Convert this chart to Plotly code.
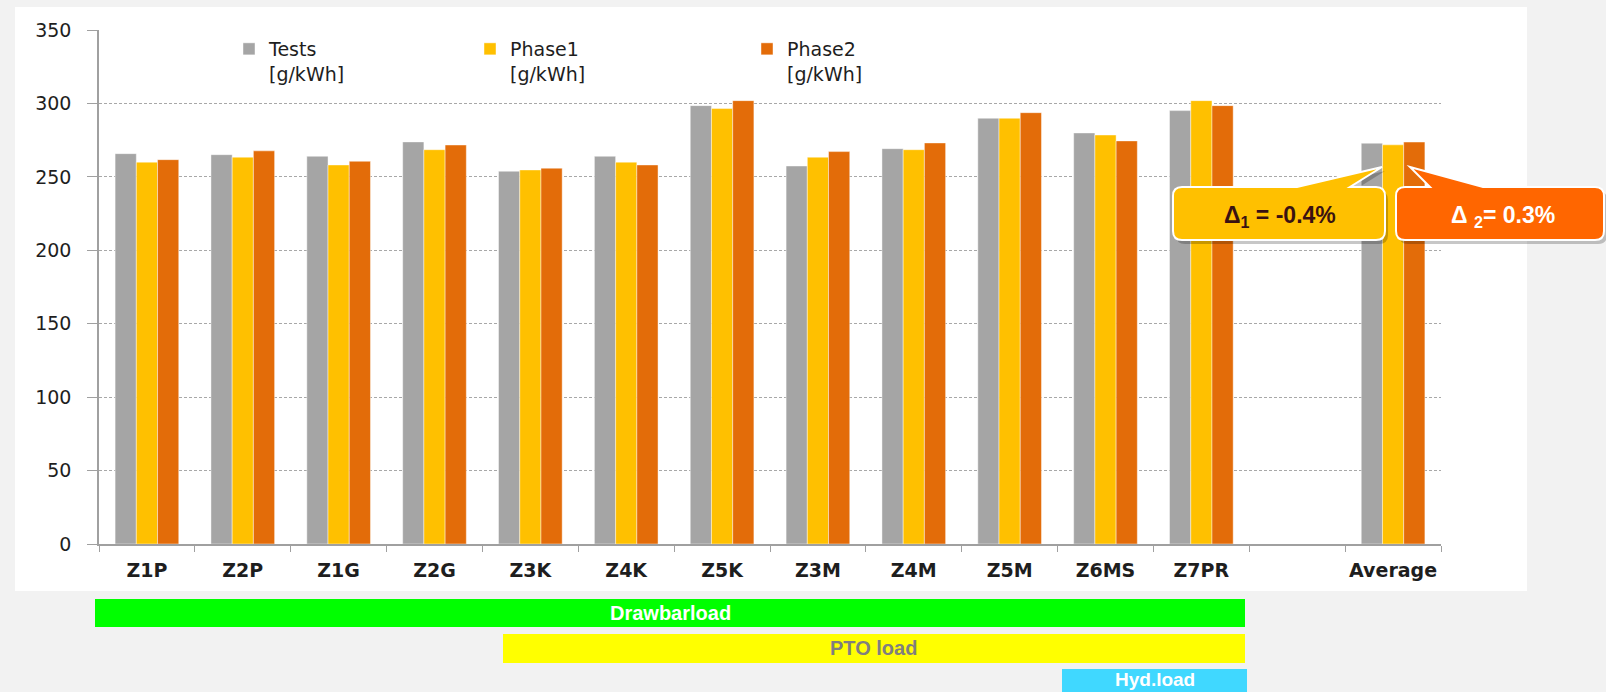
import plotly.graph_objects as go

# ---- data ---------------------------------------------------------------
categories = ["Z1P", "Z2P", "Z1G", "Z2G", "Z3K", "Z4K", "Z5K", "Z3M", "Z4M",
              "Z5M", "Z6MS", "Z7PR", " ", "Average"]
tests = [265.8, 265.1, 264.0, 273.8, 253.8, 264.0, 298.5, 257.4, 269.2,
         289.9, 279.9, 295.1, None, 272.9]
phase1 = [260.0, 263.4, 258.1, 268.5, 254.7, 260.0, 296.5, 263.4, 268.5,
          289.9, 278.5, 301.9, None, 271.8]
phase2 = [261.7, 267.7, 260.6, 271.7, 255.9, 258.1, 301.9, 267.2, 273.1,
          293.7, 274.5, 298.5, None, 273.7]

series_names = ["Tests<br>[g/kWh]", "Phase1<br>[g/kWh]", "Phase2<br>[g/kWh]"]
series_colors = ["#a5a5a5", "#ffc000", "#e36c09"]

load_labels = ["Drawbarload", "PTO load", "Hyd.load"]

# relative deviation of the averages from the tests
delta1 = (phase1[-1] - tests[-1]) / tests[-1] * 100
delta2 = (phase2[-1] - tests[-1]) / tests[-1] * 100

# ---- page geometry (pixels -> paper coordinates) ------------------------
W, H = 1606, 692
ML, MR, MT, MB = 99, 165, 30, 148
PW, PH = W - ML - MR, H - MT - MB


def px(x):
    return (x - ML) / PW


def py(y):
    return (H - MB - y) / PH


def rounded_box(x0, y0, x1, y1, r, tail=None, dx=0, dy=0):
    """SVG path (paper coords) of a rounded box, optional tail on top edge."""
    x0, x1, y0, y1 = x0 + dx, x1 + dx, y0 + dy, y1 + dy
    pts = [f"M{px(x0 + r)},{py(y0)}"]
    if tail:
        (bx0, bx1, tx, ty) = tail
        pts += [f"L{px(bx0 + dx)},{py(y0)}", f"L{px(tx + dx)},{py(ty + dy)}",
                f"L{px(bx1 + dx)},{py(y0)}"]
    pts += [f"L{px(x1 - r)},{py(y0)}", f"Q{px(x1)},{py(y0)} {px(x1)},{py(y0 + r)}",
            f"L{px(x1)},{py(y1 - r)}", f"Q{px(x1)},{py(y1)} {px(x1 - r)},{py(y1)}",
            f"L{px(x0 + r)},{py(y1)}", f"Q{px(x0)},{py(y1)} {px(x0)},{py(y1 - r)}",
            f"L{px(x0)},{py(y0 + r)}", f"Q{px(x0)},{py(y0)} {px(x0 + r)},{py(y0)}", "Z"]
    return " ".join(pts)


fig = go.Figure()

legend_ids = ["legend", "legend2", "legend3"]
for vals, name, color, lg in zip([tests, phase1, phase2], series_names,
                                 series_colors, legend_ids):
    fig.add_trace(go.Bar(
        x=categories, y=vals, name=name, legend=lg, showlegend=True,
        marker=dict(color=color, line=dict(color="rgba(255,255,255,0.55)", width=0.8)),
    ))

tick_font = dict(family="DejaVu Sans, Verdana, sans-serif", size=19, color="#1e1e1e")
legend_font = dict(family="DejaVu Sans, Verdana, sans-serif", size=19, color="#1e1e1e")

shapes = []
# white chart panel
shapes.append(dict(type="rect", xref="paper", yref="paper", layer="below",
                   x0=px(15), x1=px(1527), y0=py(591), y1=py(7),
                   fillcolor="white", line=dict(width=0)))

# load-type bands under the chart
bands = [
    (95, 1245, 599, 627, "#00ff00"),
    (503, 1245, 634, 663, "#ffff00"),
    (1062, 1247, 669, 700, "#40d8ff"),
]
for x0, x1, y0, y1, c in bands:
    shapes.append(dict(type="rect", xref="paper", yref="paper",
                       x0=px(x0), x1=px(x1), y0=py(y1), y1=py(y0),
                       fillcolor=c, line=dict(width=0)))

# callouts for the average deviations
callouts = [
    dict(box=(1173, 187, 1385, 240), tail=(1297, 1350, 1382, 167),
         fill="#ffc000"),
    dict(box=(1396, 187, 1604, 240), tail=(1430, 1483, 1410, 167),
         fill="#ff6600"),
]
for c in callouts:
    x0, y0, x1, y1 = c["box"]
    shapes.append(dict(type="path", xref="paper", yref="paper",
                       path=rounded_box(x0, y0, x1, y1, 9, c["tail"], dx=3, dy=4),
                       fillcolor="rgba(0,0,0,0.22)", line=dict(width=0)))
    shapes.append(dict(type="path", xref="paper", yref="paper",
                       path=rounded_box(x0, y0, x1, y1, 9, c["tail"]),
                       fillcolor=c["fill"], line=dict(color="white", width=2)))

centered = dict(xref="paper", yref="paper", showarrow=False,
                xanchor="center", yanchor="middle")
annotations = [
    dict(x=px(1280), y=py(216), text=f"Δ<sub>1</sub> = {delta1:.1f}%",
         font=dict(family="Liberation Sans, Arial, sans-serif", size=23,
                   color="#3a1212", weight="bold"), **centered),
    dict(x=px(1503), y=py(216), text=f"Δ <sub>2</sub>= {delta2:.1f}%",
         font=dict(family="Liberation Sans, Arial, sans-serif", size=23,
                   color="white", weight="bold"), **centered),
]
label_pos = [(670, 613, "white", 20), (874, 648, "#7f7f7f", 20),
             (1155, 679, "white", 19)]
for (x, y, col, size), txt in zip(label_pos, load_labels):
    annotations.append(dict(x=px(x), y=py(y), text=txt,
                            font=dict(family="Liberation Sans, Arial, sans-serif",
                                      size=size, color=col, weight="bold"),
                            **centered))

legend_common = dict(orientation="v", xanchor="left", yanchor="top",
                     bgcolor="rgba(0,0,0,0)", font=legend_font, valign="top",
                     itemclick=False, itemdoubleclick=False)

fig.update_layout(
    width=W, height=H,
    margin=dict(l=ML, r=MR, t=MT, b=MB),
    paper_bgcolor="#f2f2f2", plot_bgcolor="rgba(0,0,0,0)",
    showlegend=True,
    barmode="group", bargap=0.336, bargroupgap=0,
    shapes=shapes, annotations=annotations,
    legend=dict(x=px(229), y=py(30), **legend_common),
    legend2=dict(x=px(470), y=py(30), **legend_common),
    legend3=dict(x=px(747), y=py(30), **legend_common),
    xaxis=dict(type="category", range=[-0.5, len(categories) - 0.5],
               tickson="boundaries", ticks="outside", ticklen=6,
               tickcolor="#a0a0a0", tickwidth=1.3, tickangle=0,
               showline=True, linecolor="#a0a0a0", linewidth=1.5,
               showgrid=False, tickfont=dict(tick_font, weight="bold"),
               ticklabelstandoff=8),
    yaxis=dict(range=[0, 350], dtick=50, ticks="outside", ticklen=10,
               tickcolor="#a0a0a0", tickwidth=1.3,
               showline=True, linecolor="#a0a0a0", linewidth=1.5,
               showgrid=True, gridcolor="#a8a8a8", gridwidth=1,
               griddash="3px,2px", zeroline=False, tickfont=tick_font,
               ticklabelstandoff=12),
)

fig.write_html("out.html")
